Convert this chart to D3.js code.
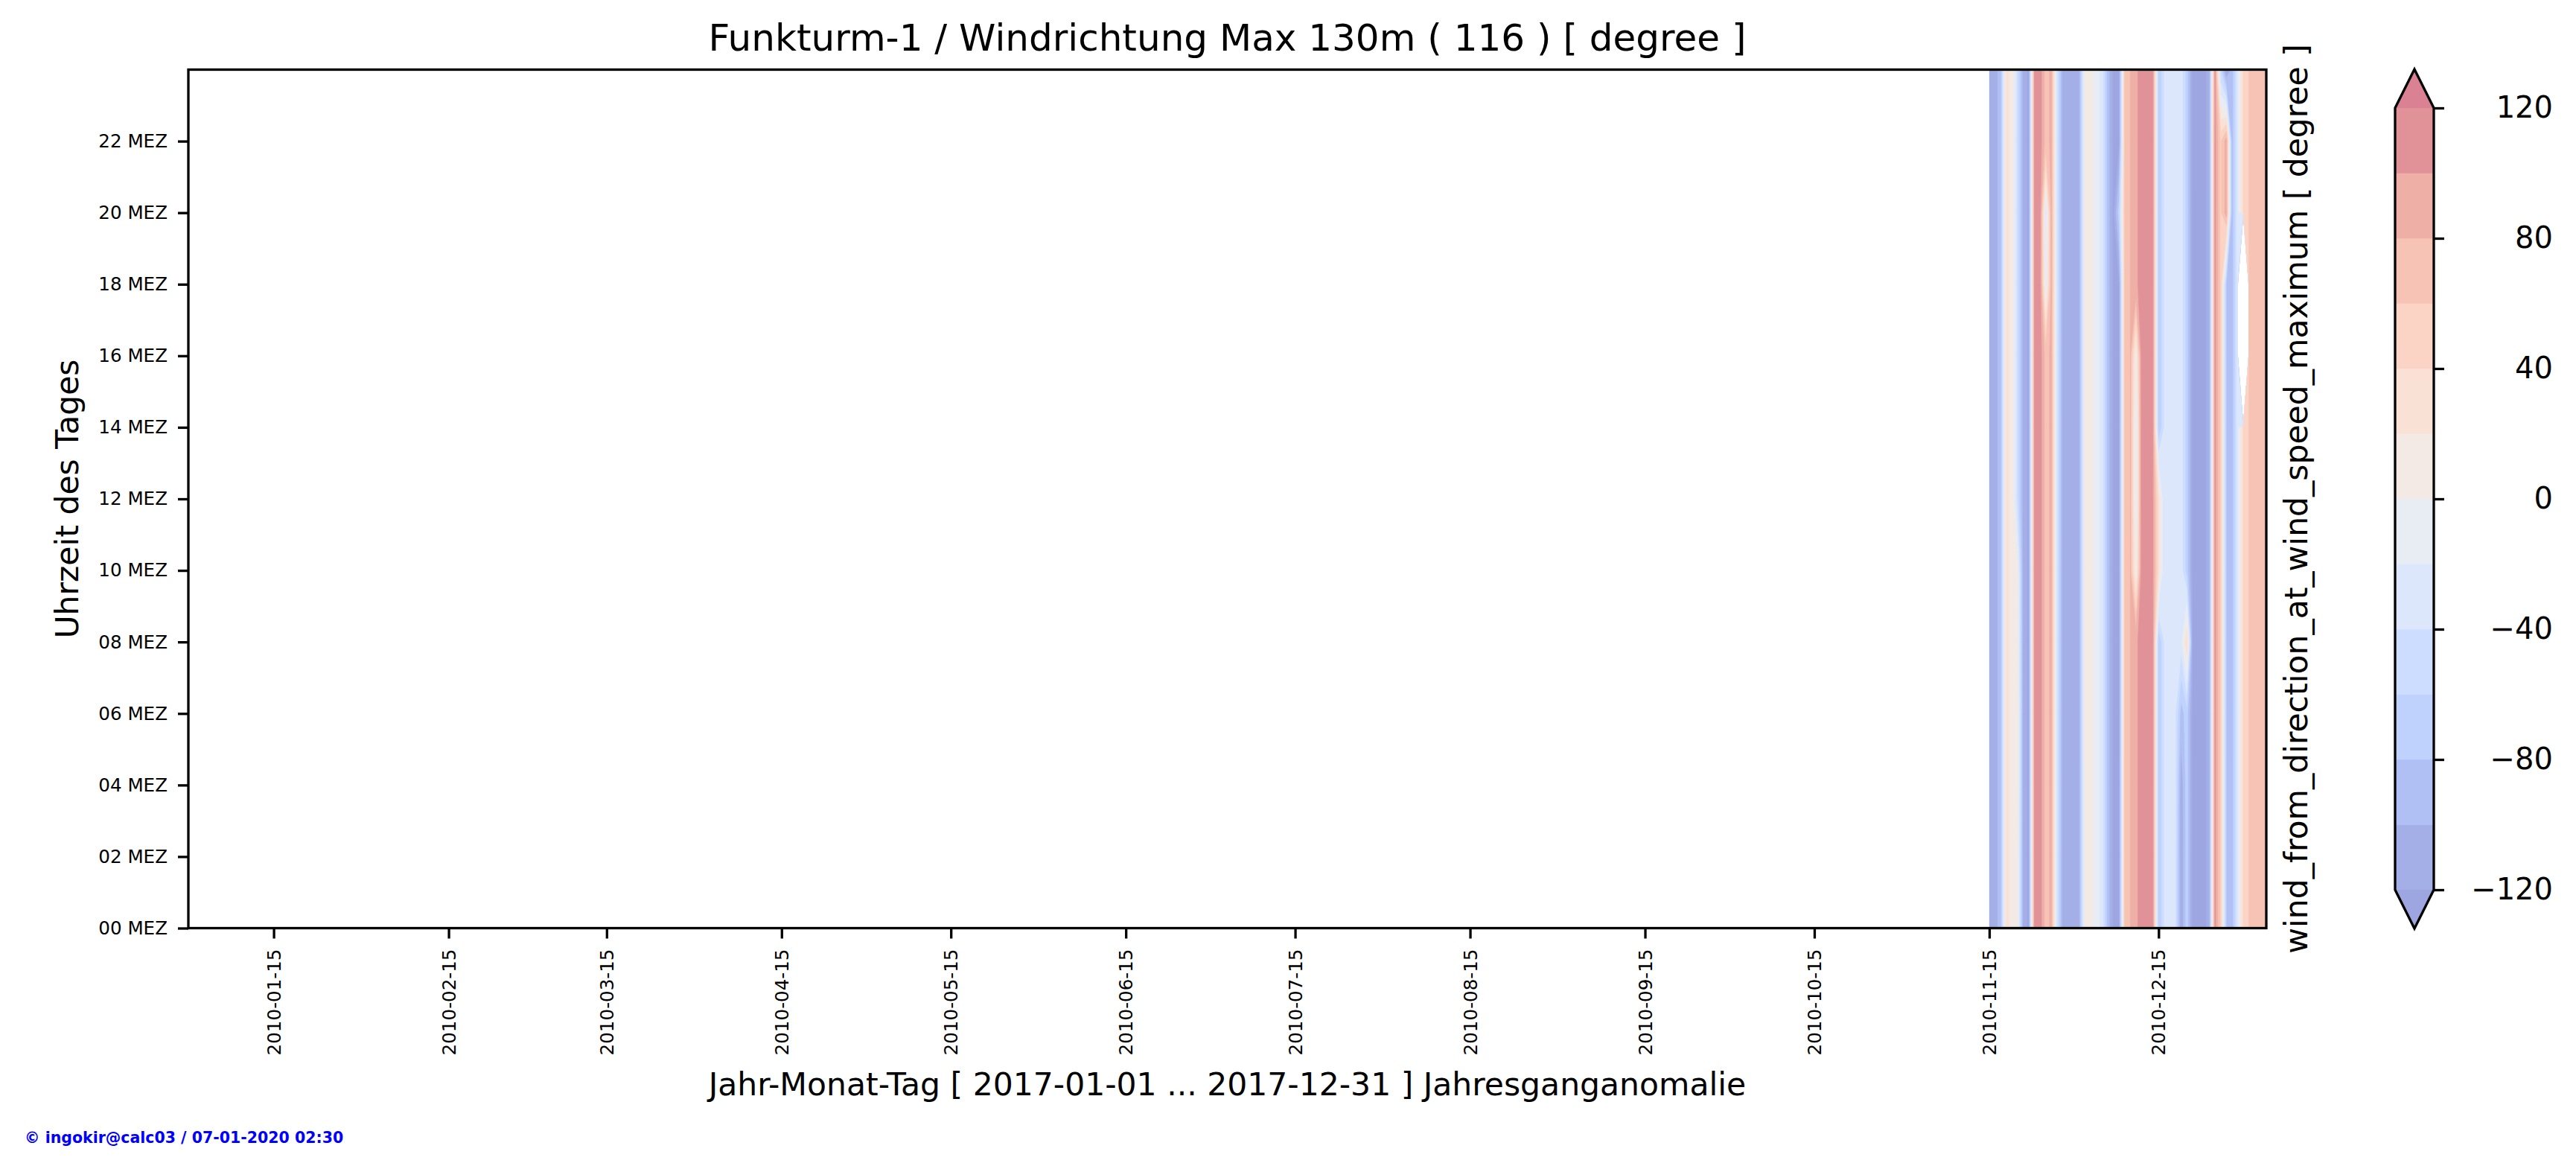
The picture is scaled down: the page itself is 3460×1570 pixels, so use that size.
<!DOCTYPE html>
<html>
<head>
<meta charset="utf-8">
<script src="https://cdn.jsdelivr.net/npm/d3@7"></script>
<style>
  body { margin: 0; background: #fff; }
  text { font-family: "DejaVu Sans", sans-serif; }
</style>
</head>
<body>
<div id="chart"></div>
<script>
// one value per day, starting 2010-11-15 (anomaly of wind direction, degree)
var firstDay = "2010-11-15";
var dayValues = [
  -110, -105, -95, 25, 15, -50, -110, -125, 100, 110,
   70, 85, -40, -110, -115, -110, -100, 10, 5, -10,
  -30, -90, -125, -125, 60, 80, 95, 110, 105, 100,
  -80, -40, -35, -40, -30, -70, -125, -125, -125, -115,
  105, 55, -80, -95, -30, 40, 60, 70, 75, 70
];
// time of day samples (hours)
var hours = [0, 2, 4, 6, 8, 10, 12, 14, 16, 18, 20, 22, 24];
// [day index, hour, value] where a day departs from its daily value (null = no data)
var hourOverrides = [
  [5, 0, 5], [5, 2, 5], [5, 4, 10], [5, 6, 10], [5, 8, 5], [5, 10, 0],
  [10, 18, -20], [10, 20, -30],
  [23, 20, -70],
  [26, 10, 0], [26, 12, -20], [26, 14, -20], [26, 16, 0],
  [30, 10, 30], [30, 12, 30],
  [34, 0, -120], [34, 2, -120], [34, 4, -115], [34, 6, -90],
  [35, 8, 40],
  [41, 24, -60],
  [42, 20, 90], [42, 22, 90], [42, 24, -125],
  [45, 16, null], [45, 18, null]
];
var levels = [-120, -100, -80, -60, -40, -20, 0, 20, 40, 60, 80, 100, 120];
var xTickDates = ["2010-01-15", "2010-02-15", "2010-03-15", "2010-04-15", "2010-05-15", "2010-06-15",
                  "2010-07-15", "2010-08-15", "2010-09-15", "2010-10-15", "2010-11-15", "2010-12-15"];
var yTickHours = [0, 2, 4, 6, 8, 10, 12, 14, 16, 18, 20, 22];
var cbTicks = [-120, -80, -40, 0, 40, 80, 120];

var W = 3460, H = 1570;
var margin = {top: 93.5, left: 253, right: 3460 - 3044, bottom: 1570 - 1246.5};
var width = W - margin.left - margin.right,
    height = H - margin.top - margin.bottom;

// coolwarm colormap, drawn at alpha 0.5 on white
var cw = d3.scaleLinear()
    .domain([0, .1, .2, .3, .4, .5, .6, .7, .8, .9, 1])
    .range(["#3b4cc0", "#5977e3", "#7b9ff9", "#9ebeff", "#c0d4f5", "#dddcdc",
            "#f2cbb7", "#f7ac8e", "#ee8468", "#d65244", "#b40426"])
    .interpolate(d3.interpolateRgb);
function soft(t) { return d3.interpolateRgb("#ffffff", cw(t))(0.5); }
var nBands = levels.length - 1;
var underColor = soft(0), overColor = soft(1);
var bandColors = d3.range(nBands).map(function(k) { return soft((k + 0.5) / nBands); });

var svg = d3.select("#chart").append("svg")
    .attr("width", W).attr("height", H)
    .style("background", "#fff");

var g = svg.append("g")
    .attr("transform", "translate(" + margin.left + "," + margin.top + ")");

var x = d3.scaleUtc()
    .domain([Date.UTC(2009, 11, 30, 21, 10), Date.UTC(2011, 0, 3, 2, 5)])
    .range([0, width]);
var y = d3.scaleLinear().domain([0, 24]).range([height, 0]);

// grid of values: columns = days, rows = hours
var n = dayValues.length, m = hours.length;
var grid = new Array(n * m);
hours.forEach(function(h, j) {
  dayValues.forEach(function(v, i) { grid[j * n + i] = v; });
});
hourOverrides.forEach(function(o) {
  var j = hours.indexOf(o[1]);
  grid[j * n + o[0]] = o[2] === null ? NaN : o[2];
});

var t0 = d3.utcParse("%Y-%m-%d")(firstDay).getTime();
var hourStep = hours[1] - hours[0];
function gx(c) { return x(new Date(t0 + (c - 0.5) * 864e5)); }
function gy(r) { return y(hours[0] + (r - 0.5) * hourStep); }
var path = d3.geoPath(d3.geoTransform({
  point: function(px, py) { this.stream.point(gx(px), gy(py)); }
}));

var thresholds = [-1e9].concat(levels);
var contours = d3.contours().size([n, m]).smooth(true).thresholds(thresholds)(grid);

function bandFill(d, i) {
  if (i === 0) return underColor;
  if (i === thresholds.length - 1) return overColor;
  return bandColors[i - 1];
}

svg.append("defs").append("clipPath").attr("id", "dataClip")
  .append("rect")
    .attr("x", x(new Date(t0))).attr("y", 0)
    .attr("width", width - x(new Date(t0))).attr("height", height);

g.append("g")
    .attr("clip-path", "url(#dataClip)")
  .selectAll("path")
  .data(contours)
  .enter().append("path")
    .attr("d", path)
    .attr("fill", bandFill)
    .attr("stroke", bandFill)
    .attr("stroke-width", 0.6);

// axes
var tickFont = 24.6, lw = 3.3, labelFont = 42.5;
var parseDay = d3.utcParse("%Y-%m-%d");

var xAxis = g.append("g")
    .attr("transform", "translate(0," + height + ")")
    .call(d3.axisBottom(x)
      .tickValues(xTickDates.map(parseDay))
      .tickFormat(d3.utcFormat("%Y-%m-%d"))
      .tickSize(14));
xAxis.select(".domain").remove();
xAxis.selectAll("line").attr("stroke-width", lw);
xAxis.selectAll("text")
    .attr("font-size", tickFont)
    .attr("font-family", "DejaVu Sans")
    .attr("fill", "#000")
    .attr("transform", "rotate(-90)")
    .attr("text-anchor", "end")
    .attr("x", -28).attr("y", 0).attr("dy", "0.35em");

var yAxis = g.append("g")
    .call(d3.axisLeft(y)
      .tickValues(yTickHours)
      .tickFormat(function(d) { return (d < 10 ? "0" : "") + d + " MEZ"; })
      .tickSize(14).tickPadding(14));
yAxis.select(".domain").remove();
yAxis.selectAll("line").attr("stroke-width", lw);
yAxis.selectAll("text")
    .attr("font-size", tickFont)
    .attr("font-family", "DejaVu Sans")
    .attr("fill", "#000");

// frame
g.append("rect")
    .attr("width", width).attr("height", height)
    .attr("fill", "none").attr("stroke", "#000").attr("stroke-width", lw);

// titles
svg.append("text")
    .attr("x", margin.left + width / 2).attr("y", 68)
    .attr("text-anchor", "middle").attr("font-size", 50)
    .text("Funkturm-1 / Windrichtung Max 130m ( 116 ) [ degree ]");

svg.append("text")
    .attr("x", margin.left + width / 2).attr("y", 1471)
    .attr("text-anchor", "middle").attr("font-size", labelFont)
    .text("Jahr-Monat-Tag [ 2017-01-01 ... 2017-12-31 ] Jahresganganomalie");

svg.append("text")
    .attr("transform", "translate(105," + (margin.top + height / 2) + ") rotate(-90)")
    .attr("text-anchor", "middle").attr("font-size", labelFont)
    .text("Uhrzeit des Tages");

svg.append("text")
    .attr("transform", "translate(3099," + (margin.top + height / 2) + ") rotate(-90)")
    .attr("text-anchor", "middle").attr("font-size", labelFont)
    .text("wind_from_direction_at_wind_speed_maximum [ degree ]");

svg.append("text")
    .attr("x", 33).attr("y", 1535)
    .attr("font-size", 20.5).attr("font-weight", "bold").attr("fill", "#0000ff")
    .text("\u00a9 ingokir@calc03 / 07-01-2020 02:30");

// colorbar
var cbX = 3217, cbW = 52, ext = 52;
var cb = d3.scaleLinear().domain([levels[0], levels[levels.length - 1]]).range([1195, 145]);
var cbg = svg.append("g").attr("transform", "translate(" + cbX + ",0)");

cbg.selectAll("rect.band")
  .data(d3.range(nBands))
  .enter().append("rect")
    .attr("class", "band")
    .attr("x", 0).attr("width", cbW)
    .attr("y", function(k) { return cb(levels[k + 1]); })
    .attr("height", function(k) { return cb(levels[k]) - cb(levels[k + 1]); })
    .attr("fill", function(k) { return bandColors[k]; })
    .attr("stroke", function(k) { return bandColors[k]; })
    .attr("stroke-width", 0.6);

var yTop = cb(levels[levels.length - 1]), yBot = cb(levels[0]);
cbg.append("path")
    .attr("d", "M0," + yTop + "L" + cbW / 2 + "," + (yTop - ext) + "L" + cbW + "," + yTop + "Z")
    .attr("fill", overColor);
cbg.append("path")
    .attr("d", "M0," + yBot + "L" + cbW / 2 + "," + (yBot + ext) + "L" + cbW + "," + yBot + "Z")
    .attr("fill", underColor);
cbg.append("path")
    .attr("d", "M0," + yTop + "L" + cbW / 2 + "," + (yTop - ext) + "L" + cbW + "," + yTop +
               "L" + cbW + "," + yBot + "L" + cbW / 2 + "," + (yBot + ext) + "L0," + yBot + "Z")
    .attr("fill", "none").attr("stroke", "#000").attr("stroke-width", lw)
    .attr("stroke-linejoin", "miter");

var cbAxis = cbg.append("g")
    .attr("transform", "translate(" + cbW + ",0)")
    .call(d3.axisRight(cb).tickValues(cbTicks).tickSize(14));
cbAxis.select(".domain").remove();
cbAxis.selectAll("line").attr("stroke-width", lw);
cbAxis.selectAll("text")
    .attr("font-size", 40)
    .attr("font-family", "DejaVu Sans")
    .attr("fill", "#000")
    .attr("text-anchor", "end")
    .attr("x", 3429 - cbX - cbW);
</script>
</body>
</html>
